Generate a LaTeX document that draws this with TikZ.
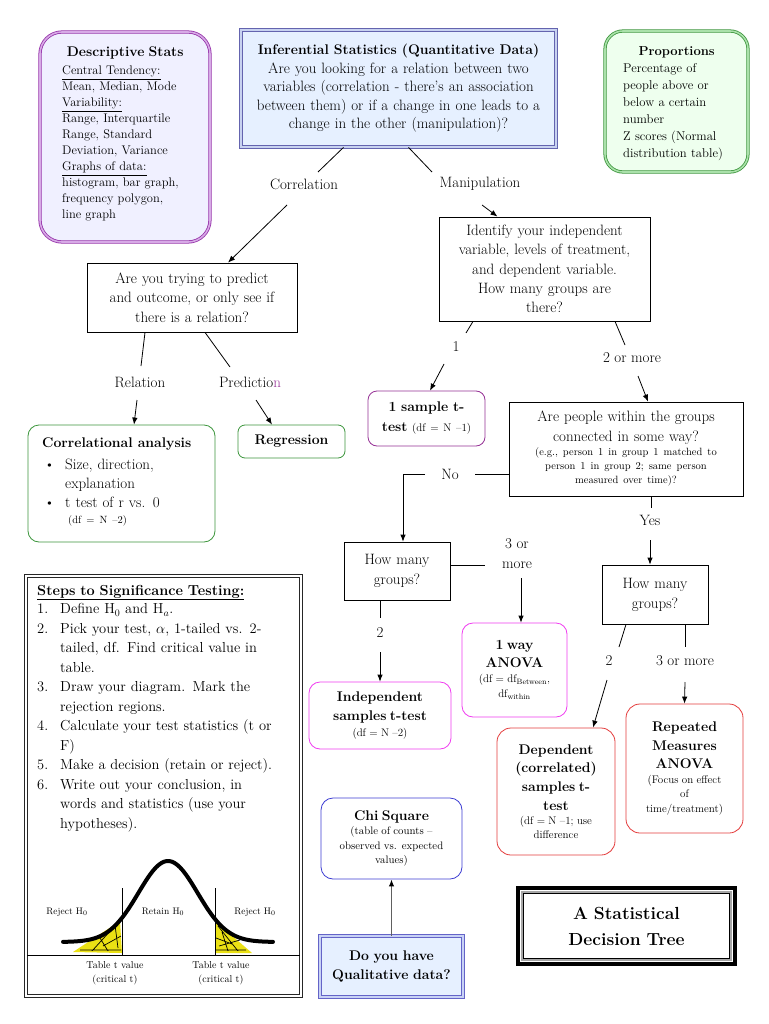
\documentclass[tikz,border=0pt]{standalone}
\usetikzlibrary{calc,arrows.meta}
\newcommand\myfs[2]{\fontsize{#1}{#2}\selectfont}
\definecolor{descB}{RGB}{150,50,170}
\definecolor{descD}{RGB}{215,170,230}
\definecolor{descF}{RGB}{240,240,255}
\definecolor{inferB}{RGB}{100,100,175}
\definecolor{inferD}{RGB}{200,210,240}
\definecolor{inferF}{RGB}{230,240,255}
\definecolor{propB}{RGB}{60,150,60}
\definecolor{propD}{RGB}{170,225,170}
\definecolor{propF}{RGB}{238,255,238}
\definecolor{greenB}{RGB}{60,150,60}
\definecolor{oneB}{RGB}{150,50,150}
\definecolor{magB}{RGB}{240,60,240}
\definecolor{redB}{RGB}{228,60,60}
\definecolor{blueB}{RGB}{60,60,210}
\definecolor{qualB}{RGB}{100,100,200}
\definecolor{qualD}{RGB}{200,210,245}
\definecolor{qualF}{RGB}{230,240,255}
\definecolor{tailY}{RGB}{235,225,20}
\begin{document}
\begin{tikzpicture}[x=1pt,y=-1pt,
  box/.style={draw, line width=0.8pt, inner sep=0pt, align=center},
  rbox/.style={box, rounded corners=11pt},
  lbl/.style={inner sep=0pt, font=\myfs{15}{18}},
  arr/.style={-{Latex[length=7pt,width=5.5pt]}, line width=0.8pt},
  ln/.style={line width=0.8pt},
  body/.style={font=\myfs{15}{19.3}},
  txt/.style={inner sep=0pt, align=left, anchor=north west},
]
\useasboundingbox[fill=white] (0,0) rectangle (768,1024);

% ---------- top boxes ----------
\node[rbox, draw=descB, double=descD, double distance=1.6pt, fill=descF,
      rounded corners=22pt, minimum width=170, minimum height=210] (desc) at (125,137) {};
\node[txt, text width=150pt, font=\myfs{12.5}{16}] (descT) at (62,47)
 {\makebox[126pt]{\myfs{14}{16}\bfseries Descriptive Stats}\\[2pt]
  \underline{Central Tendency:}\\
  Mean, Median, Mode\\
  \underline{Variability:}\\
  Range, Interquartile\\
  Range, Standard\\
  Deviation, Variance\\
  \underline{Graphs of data:}\\
  histogram, bar graph,\\
  frequency polygon,\\
  line graph};

\node[box, draw=inferB, double=inferD, double distance=1.8pt, fill=inferF,
      minimum width=315, minimum height=117, text width=305pt, font=\myfs{15}{18.5}] (infer) at (398.5,88.5)
 {{\myfs{14}{18.5}\bfseries Inferential Statistics (Quantitative Data)}\\
  Are you looking for a relation between two\\
  variables (correlation - there’s an association\\
  between them) or if a change in one leads to a\\
  change in the other (manipulation)?\par\vspace*{8pt}};

\node[rbox, draw=propB, double=propD, double distance=1.6pt, fill=propF,
      rounded corners=18pt, minimum width=143, minimum height=141] (prop) at (676.5,101.5) {};
\node[txt, text width=125pt, font=\myfs{12.7}{17}] (propT) at (623,46)
 {\makebox[107pt]{\myfs{13}{17}\bfseries Proportions}\\
  Percentage of\\
  people above or\\
  below a certain\\
  number\\
  Z scores (Normal\\
  distribution table)};

% ---------- left branch ----------
\node[box, minimum width=210, minimum height=69, text width=205pt, body] (pred) at (192,297.5)
 {Are you trying to predict\\ and outcome, or only see if\\ there is a relation?};

\node[rbox, draw=greenB, minimum width=187, minimum height=117] (corr) at (121.5,483.5) {};
\node[txt, text width=175pt, font=\myfs{15}{19}] (corrT) at (42,438)
 {{\myfs{14}{19}\bfseries Correlational analysis}\\[3pt]
  \makebox[23pt][l]{\hspace{2pt}\textbullet}Size, direction,\\
  \hspace*{23pt}explanation\\
  \makebox[23pt][l]{\hspace{2pt}\textbullet}t test of r vs. 0\\[-3pt]
  \hspace*{26pt}{\myfs{10.5}{12}(df = N –2)}};

\node[rbox, draw=greenB, minimum width=107, minimum height=33, rounded corners=7pt,
      font=\myfs{14}{17}\bfseries] (regr) at (291.5,441.5) {Regression};

% ---------- right branch ----------
\node[box, minimum width=211, minimum height=104, text width=205pt, body] (ident) at (544.5,269)
 {Identify your independent\\ variable, levels of treatment,\\ and dependent variable.\\ How many groups are\\ there?};

\node[rbox, draw=oneB, minimum width=117, minimum height=55, text width=110pt, rounded corners=9pt,
      font=\myfs{14}{20}\bfseries] (one) at (426.5,418.5)
 {1 sample t-\\ test {\mdseries\myfs{11}{20}(df = N –1)}};

\node[box, minimum width=234, minimum height=94, text width=228pt, body, font=\myfs{15}{20}] (conn) at (626,449)
 {Are people within the groups\\ connected in some way?\par
  {\myfs{10.5}{14}(e.g., person 1 in group 1 matched to\\ person 1 in group 2; same person\\ measured over time)?\par}};

\node[box, minimum width=106, minimum height=58, text width=100pt, font=\myfs{15}{20}] (hmL) at (397,571)
 {How many\\ groups?};
\node[box, minimum width=106, minimum height=59, text width=100pt, font=\myfs{15}{20}] (hmR) at (655,594.5)
 {How many\\ groups?};

\node[rbox, draw=magB, minimum width=105, minimum height=94, text width=100pt] (anova1) at (514.5,670)
 {{\myfs{14}{18}\bfseries 1 way\\ ANOVA\par}{\myfs{11}{15}(df = df\textsubscript{Between},\\ df\textsubscript{within}\par}};

\node[rbox, draw=magB, minimum width=142, minimum height=67, text width=136pt] (indep) at (380,715.5)
 {{\myfs{14}{19}\bfseries Independent\\ samples t-test\par}{\myfs{11}{16}(df = N –2)\par}};

\node[rbox, draw=redB, minimum width=118, minimum height=127, text width=112pt, rounded corners=14pt] (dep) at (556,791.5)
 {{\myfs{14}{18.7}\bfseries Dependent\\ (correlated)\\ samples t-\\ test\par}{\myfs{11}{14}(df = N –1; use\\ difference\par}};

\node[rbox, draw=redB, minimum width=117, minimum height=129, text width=112pt, rounded corners=14pt] (rep) at (684.5,768.5)
 {{\myfs{14}{18.5}\bfseries Repeated\\ Measures\\ ANOVA\par}{\myfs{11}{14.5}(Focus on effect\\ of\\ time/treatment)\par}};

\node[rbox, draw=blueB, minimum width=141, minimum height=81, text width=136pt, rounded corners=12pt] (chi) at (391.5,838.5)
 {{\myfs{14}{18}\bfseries Chi Square\par}{\myfs{10.8}{14.5}(table of counts –\\ observed vs. expected\\ values)\par}};

\node[box, draw=qualB, double=qualD, double distance=1.8pt, fill=qualF,
      minimum width=143, minimum height=61, text width=136pt, font=\myfs{14}{19}\bfseries] (qual) at (391.5,966.5)
 {Do you have\\ Qualitative data?};

\node[box, line width=4pt, minimum width=217, minimum height=76, text width=200pt,
      font=\myfs{17.5}{26}\bfseries] (title) at (626.5,926)
 {A Statistical\\ Decision Tree};
\draw[gray!70, line width=2pt] ($(title.north west)+(6,6)$) rectangle ($(title.south east)+(-6,-6)$);
\draw[line width=0.6pt] ($(title.north west)+(7.5,7.5)$) rectangle ($(title.south east)+(-7.5,-7.5)$);

% ---------- steps box ----------
\node[box, draw=black!85, double=white, double distance=2pt, line width=1pt,
      minimum width=275, minimum height=420] (steps) at (163.5,786) {};
\node[txt, text width=262pt, font=\myfs{14.5}{19.5}] (stepsT) at (37,585)
 {\underline{\bfseries Steps to Significance Testing:}\\[-1pt]
  \makebox[23pt][l]{1.}Define H$_0$ and H$_a$.\\
  \makebox[23pt][l]{2.}Pick your test, $\alpha$, 1-tailed vs. 2-\\
  \hspace*{23pt}tailed, df. Find critical value in\\
  \hspace*{23pt}table.\\
  \makebox[23pt][l]{3.}Draw your diagram. Mark the\\
  \hspace*{23pt}rejection regions.\\
  \makebox[23pt][l]{4.}Calculate your test statistics (t or\\
  \hspace*{23pt}F)\\
  \makebox[23pt][l]{5.}Make a decision (retain or reject).\\
  \makebox[23pt][l]{6.}Write out your conclusion, in\\
  \hspace*{23pt}words and statistics (use your\\
  \hspace*{23pt}hypotheses).};

% bell curve drawing
\fill[tailY] (73,952) -- (120,921) -- (122,953) -- cycle;
\draw[line width=0.7pt] (80,950) -- (121,950) (92,951) -- (112,929) (103,946) -- (121,936)
  (108,951) -- (100,938) (115,925) -- (118,948);
\fill[tailY] (215,921) -- (252,953) -- (216,953) -- cycle;
\draw[line width=0.7pt] (216,950) -- (246,950) (218,926) -- (238,951) (216,938) -- (232,944)
  (228,951) -- (222,932) (219,946) -- (240,940);
\draw[line width=0.6pt] (122,888) -- (122,955) (215,888) -- (215,955);
\draw[line width=0.6pt] (27,955) -- (300,955);
\draw[line width=4pt, line cap=round] plot[domain=63:273, samples=80, smooth]
  (\x, {942-81*exp(-((\x-168)^2)/1750)});
\node[inner sep=0pt, font=\myfs{9.5}{11}] (rj1) at (67,912) {Reject H$_0$};
\node[inner sep=0pt, font=\myfs{9.5}{11}] (rt) at (163,912) {Retain H$_0$};
\node[inner sep=0pt, font=\myfs{9.5}{11}] (rj2) at (255,912) {Reject H$_0$};
\node[inner sep=0pt, align=center, font=\myfs{10}{14}] (tv1) at (115,973) {Table t value\\ (critical t)};
\node[inner sep=0pt, align=center, font=\myfs{10}{14}] (tv2) at (221,973) {Table t value\\ (critical t)};

% ---------- labels ----------
\node[lbl] (corrL) at (304,184) {Correlation};
\node[lbl] (manL) at (480,184) {Manipulation};
\node[lbl] (relL) at (140,382) {Relation};
\node[lbl] (predL) at (250,382) {Predictio\textcolor{oneB}{n}};
\node[lbl] (oneL) at (456,347) {1};
\node[lbl] (twomL) at (632,358) {2 or more};
\node[lbl] (noL) at (450,474) {No};
\node[lbl] (yesL) at (650,520) {Yes};
\node[lbl, align=center, font=\myfs{15}{20}] (threeL) at (517,554) {3 or\\ more};
\node[lbl] (twoL) at (380,633) {2};
\node[lbl] (twoR) at (609,661) {2};
\node[lbl] (threeR) at (685,661) {3 or more};

% ---------- connectors ----------
\draw[ln] ($(infer.south)+(-55,0)$) -- ($(corrL)+(14,-12)$);
\draw[arr] ($(corrL)+(-17,21)$) -- ($(pred.north)+(36,0)$);
\draw[ln] ($(infer.south)+(10,0)$) -- ($(manL)+(-48,-12)$);
\draw[arr] ($(manL)+(2,21)$) -- ($(ident.north)+(-47,0)$);
\draw[ln] ($(pred.south)+(-47,0)$) -- ($(relL)+(1,-16)$);
\draw[arr] ($(relL)+(-3,18)$) -- ($(corr.north)+(12.5,0)$);
\draw[ln] ($(pred.south)+(13,0)$) -- ($(predL)+(-20,-15)$);
\draw[arr] ($(predL)+(6,18)$) -- ($(regr.north)+(-19.5,0)$);
\draw[ln] ($(ident.south)+(-71.5,0)$) -- ($(oneL)+(10,-14)$);
\draw[arr] ($(oneL)+(-12,17)$) -- ($(one.north)+(3.5,0)$);
\draw[ln] ($(ident.south)+(70.5,0)$) -- ($(twomL)+(-7,-13)$);
\draw[arr] ($(twomL)+(6,18)$) -- ($(conn.north)+(22,0)$);
\draw[ln] ($(conn.west)+(0,25)$) -- ($(noL)+(25,0)$);
\draw[arr] ($(noL)+(-25,0)$) -| ($(hmL.north)+(6,0)$);
\draw[ln] ($(conn.south)+(25,0)$) -- ($(yesL)+(1,-12)$);
\draw[arr] ($(yesL)+(0,20)$) -- ($(hmR.north)+(-5,0)$);
\draw[ln] ($(hmL.east)+(0,-6)$) -- ($(threeL)+(-32,11)$);
\draw[arr] ($(threeL)+(4,24)$) -- ($(anova1.north)+(6.5,0)$);
\draw[ln] ($(hmL.south)+(-17,0)$) -- ($(twoL)+(0,-15)$);
\draw[arr] ($(twoL)+(0,19)$) -- (indep.north);
\draw[ln] ($(hmR.south)+(-29,0)$) -- ($(twoR)+(10,-14)$);
\draw[arr] ($(twoR)+(-2,19)$) -- ($(dep.north)+(37,0)$);
\draw[ln] ($(hmR.south)+(30,0)$) -- ($(threeR)+(0,-14)$);
\draw[arr] ($(threeR)+(0,21)$) -- (rep.north);
\draw[-{Latex[length=7pt,width=5.5pt,fill=black,color=black]}, draw=gray!75!black, line width=1.3pt] (qual) -- (chi);
\end{tikzpicture}
\end{document}
